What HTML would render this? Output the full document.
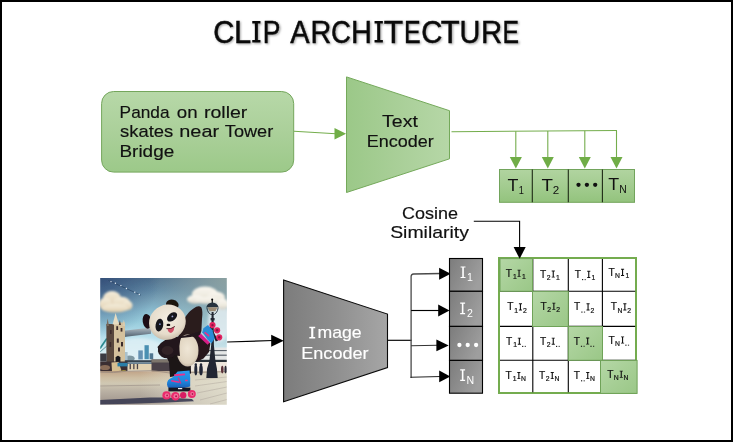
<!DOCTYPE html>
<html>
<head>
<meta charset="utf-8">
<title>CLIP Architecture</title>
<style>
html,body{margin:0;padding:0;background:#fff;}
body{width:733px;height:442px;overflow:hidden;font-family:"Liberation Sans",sans-serif;}
svg{display:block;position:absolute;left:0;top:0;}
text{font-family:"Liberation Sans",sans-serif;}
.ser{font-family:"Liberation Serif",serif;}
</style>
</head>
<body>
<svg width="733" height="442" viewBox="0 0 733 442" style="opacity:0.999">
<defs>
  <linearGradient id="gBox" x1="0" y1="0" x2="0" y2="1">
    <stop offset="0" stop-color="#b7d8a8"/>
    <stop offset="0.5" stop-color="#abd09a"/>
    <stop offset="1" stop-color="#9cc989"/>
  </linearGradient>
  <linearGradient id="gTrap" x1="0" y1="0" x2="1" y2="0">
    <stop offset="0" stop-color="#9bc888"/>
    <stop offset="0.5" stop-color="#a9cf98"/>
    <stop offset="1" stop-color="#b6d7a7"/>
  </linearGradient>
  <linearGradient id="gT" x1="0" y1="0" x2="0" y2="1">
    <stop offset="0" stop-color="#b1d4a0"/>
    <stop offset="0.5" stop-color="#a3cc90"/>
    <stop offset="1" stop-color="#93c37d"/>
  </linearGradient>
  <linearGradient id="gCell" x1="0" y1="0" x2="1" y2="1">
    <stop offset="0" stop-color="#b5d7a6"/>
    <stop offset="0.5" stop-color="#a7cf96"/>
    <stop offset="1" stop-color="#9ac787"/>
  </linearGradient>
  <linearGradient id="gGray" x1="0" y1="0" x2="1" y2="0">
    <stop offset="0" stop-color="#7c7c7c"/>
    <stop offset="0.5" stop-color="#8f8f8f"/>
    <stop offset="1" stop-color="#a6a6a6"/>
  </linearGradient>
  <linearGradient id="gI" x1="0" y1="0" x2="1" y2="0.45">
    <stop offset="0" stop-color="#7c7c7c"/>
    <stop offset="1" stop-color="#9e9e9e"/>
  </linearGradient>
  <filter id="tsh" x="-5%" y="-20%" width="110%" height="150%">
    <feGaussianBlur stdDeviation="0.9"/>
  </filter>
  <path id="vI" d="M0.06,-0.727 H0.36 V-0.652 H0.259 V-0.075 H0.36 V0 H0.06 V-0.075 H0.161 V-0.652 H0.06 Z"/>
  <path id="vIt" d="M0.05,-0.727 H0.37 V-0.64 H0.268 V-0.087 H0.37 V0 H0.05 V-0.087 H0.152 V-0.64 H0.05 Z"/>
</defs>

<!-- background + border -->
<rect x="0" y="0" width="733" height="442" fill="#000"/>
<rect x="2" y="2" width="729" height="438" fill="#fff"/>

<!-- title -->
<!--TITLE-->
<g id="title" font-size="31.2">
<g fill="#a6a6a6" stroke="#a6a6a6" stroke-width="0.45" filter="url(#tsh)">
<text transform="translate(214.37,43.7) scale(0.936,1)">C</text>
<text transform="translate(235.02,43.7) scale(0.989,1)">L</text>
<use href="#vIt" stroke="none" transform="translate(252.07,43.7) scale(25.62,29.53)"/>
<text transform="translate(263.88,43.7) scale(0.849,1)">P</text>
<text transform="translate(291.29,43.7) scale(0.928,1)">A</text>
<text transform="translate(311.49,43.7) scale(0.923,1)">R</text>
<text transform="translate(332.15,43.7) scale(0.881,1)">C</text>
<text transform="translate(352.17,43.7) scale(0.93,1)">H</text>
<use href="#vIt" stroke="none" transform="translate(374.35,43.7) scale(25.94,29.53)"/>
<text transform="translate(384.94,43.7) scale(1.015,1)">T</text>
<text transform="translate(405.01,43.7) scale(0.798,1)">E</text>
<text transform="translate(422.37,43.7) scale(0.936,1)">C</text>
<text transform="translate(441.95,43.7) scale(0.992,1)">T</text>
<text transform="translate(460.72,43.7) scale(0.926,1)">U</text>
<text transform="translate(482.05,43.7) scale(0.939,1)">R</text>
<text transform="translate(503.72,43.7) scale(0.792,1)">E</text>
</g>
<g fill="#0a0a0a" stroke="#0a0a0a" stroke-width="0.45">
<text transform="translate(213.27,42.5) scale(0.936,1)">C</text>
<text transform="translate(233.92,42.5) scale(0.989,1)">L</text>
<use href="#vIt" stroke="none" transform="translate(250.97,42.5) scale(25.62,29.53)"/>
<text transform="translate(262.78,42.5) scale(0.849,1)">P</text>
<text transform="translate(290.19,42.5) scale(0.928,1)">A</text>
<text transform="translate(310.39,42.5) scale(0.923,1)">R</text>
<text transform="translate(331.05,42.5) scale(0.881,1)">C</text>
<text transform="translate(351.07,42.5) scale(0.93,1)">H</text>
<use href="#vIt" stroke="none" transform="translate(373.25,42.5) scale(25.94,29.53)"/>
<text transform="translate(383.84,42.5) scale(1.015,1)">T</text>
<text transform="translate(403.91,42.5) scale(0.798,1)">E</text>
<text transform="translate(421.27,42.5) scale(0.936,1)">C</text>
<text transform="translate(440.85,42.5) scale(0.992,1)">T</text>
<text transform="translate(459.62,42.5) scale(0.926,1)">U</text>
<text transform="translate(480.95,42.5) scale(0.939,1)">R</text>
<text transform="translate(502.62,42.5) scale(0.792,1)">E</text>
</g>
</g>
<!--/TITLE-->

<!-- prompt box -->
<g id="prompt">
  <rect x="101.6" y="91.5" width="192.1" height="80.6" rx="12" ry="12" fill="url(#gBox)" stroke="#74a65c" stroke-width="1"/>
  <g font-size="16.4" fill="#111" stroke="#111" stroke-width="0.16">
    <text x="119.63" y="117.8" textLength="49.92" lengthAdjust="spacingAndGlyphs">Panda</text>
    <text x="176.76" y="117.8" textLength="20.8" lengthAdjust="spacingAndGlyphs">on</text>
    <text x="203.95" y="117.8" textLength="43.42" lengthAdjust="spacingAndGlyphs">roller</text>
    <text x="120.14" y="137.3" textLength="53.18" lengthAdjust="spacingAndGlyphs">skates</text>
    <text x="179.33" y="137.3" textLength="39.75" lengthAdjust="spacingAndGlyphs">near</text>
    <text x="224.86" y="137.3" textLength="48.38" lengthAdjust="spacingAndGlyphs">Tower</text>
    <text x="119.5" y="157.2" textLength="54.69" lengthAdjust="spacingAndGlyphs">Bridge</text>
  </g>
</g>

<!-- arrow prompt -> text encoder -->
<g id="arr1" stroke="#74ad4c" fill="#70ad47">
  <line x1="294" y1="131.3" x2="336" y2="133.7" stroke-width="1.1"/>
  <polygon points="334.5,128 346.1,133.8 334.5,139.5" stroke="none"/>
</g>

<!-- text encoder trapezoid -->
<g id="tenc">
  <polygon points="346.5,76.9 449.5,110.7 449.5,158.8 346.5,192.5" fill="url(#gTrap)" stroke="#74a95a" stroke-width="1"/>
  <g font-size="16.4" fill="#111" stroke="#111" stroke-width="0.16">
    <text x="382.14" y="126.6" textLength="35.75" lengthAdjust="spacingAndGlyphs">Text</text>
    <text x="366.87" y="146.8" textLength="66.97" lengthAdjust="spacingAndGlyphs">Encoder</text>
  </g>
</g>

<!-- text encoder outputs -->
<g id="tout" stroke="#74ad4c" fill="#70ad47" stroke-width="1.1">
  <polyline points="451.5,131.7 617,130.5" fill="none"/>
  <line x1="515.8" y1="131.3" x2="515.8" y2="158"/>
  <line x1="547.8" y1="131.1" x2="547.8" y2="158"/>
  <line x1="584.8" y1="130.8" x2="584.8" y2="158"/>
  <line x1="616.5" y1="130.5" x2="616.5" y2="158"/>
  <g stroke="none">
    <polygon points="509.8,157 521.9,157 515.85,168.6"/>
    <polygon points="541.8,157 553.8,157 547.8,168.6"/>
    <polygon points="578.8,157 590.8,157 584.8,168.6"/>
    <polygon points="610.5,157 622.5,157 616.5,168.6"/>
  </g>
</g>

<!-- T row -->
<g id="trow">
  <rect x="499.5" y="169.5" width="135" height="32.8" fill="url(#gT)" stroke="#72a45c" stroke-width="1"/>
  <g stroke="#1e2a16" stroke-width="1.1">
    <line x1="532.3" y1="169.5" x2="532.3" y2="202.3"/>
    <line x1="568.3" y1="169.5" x2="568.3" y2="202.3"/>
    <line x1="602.4" y1="169.5" x2="602.4" y2="202.3"/>
  </g>
  <g fill="#111">
    <text transform="translate(507.50,190.8) scale(1.089,1)" font-size="16.4">T</text>
    <text transform="translate(518.69,193.7) scale(0.859,1)" font-size="10.8">1</text>
    <text transform="translate(541.48,190.8) scale(1.143,1)" font-size="16.4">T</text>
    <text transform="translate(552.71,193.7) scale(1.077,1)" font-size="10.8">2</text>
    <circle cx="578.5" cy="184.8" r="2.15"/>
    <circle cx="586.9" cy="184.8" r="2.15"/>
    <circle cx="595.2" cy="184.8" r="2.15"/>
    <text transform="translate(608.20,189.9) scale(1.089,1)" font-size="16.4">T</text>
    <text transform="translate(619.35,192.8) scale(0.961,1)" font-size="10.8">N</text>
  </g>
</g>

<!-- cosine similarity -->
<g id="cos">
  <g font-size="16.2" fill="#111" stroke="#111" stroke-width="0.16">
    <text x="402.04" y="219" textLength="56.01" lengthAdjust="spacingAndGlyphs">Cosine</text>
    <text x="390.17" y="238.4" textLength="78.82" lengthAdjust="spacingAndGlyphs">Similarity</text>
  </g>
</g>

<!--PANDA-->
<defs>
  <clipPath id="pc"><rect x="100.2" y="278" width="126.6" height="126.7"/></clipPath>
  <filter id="pb" x="-5%" y="-5%" width="110%" height="110%"><feGaussianBlur stdDeviation="0.7"/></filter>
  <filter id="pb3" x="-20%" y="-20%" width="140%" height="140%"><feGaussianBlur stdDeviation="0.9"/></filter>
  <filter id="pb2" x="-20%" y="-20%" width="140%" height="140%"><feGaussianBlur stdDeviation="1.6"/></filter>
  <linearGradient id="pSky" x1="0" y1="278" x2="0" y2="372" gradientUnits="userSpaceOnUse">
    <stop offset="0" stop-color="#4f708d"/>
    <stop offset="0.13" stop-color="#628aa5"/>
    <stop offset="0.24" stop-color="#7ba5ba"/>
    <stop offset="0.36" stop-color="#8cbed1"/>
    <stop offset="0.47" stop-color="#98ccdc"/>
    <stop offset="0.61" stop-color="#b4deeb"/>
    <stop offset="0.78" stop-color="#d5ecf2"/>
    <stop offset="1" stop-color="#e8eef0"/>
  </linearGradient>
  <radialGradient id="pSkyL" cx="98" cy="276" r="62" gradientUnits="userSpaceOnUse">
    <stop offset="0" stop-color="#2a4270" stop-opacity="0.75"/>
    <stop offset="0.5" stop-color="#2e4a78" stop-opacity="0.4"/>
    <stop offset="1" stop-color="#2e4a78" stop-opacity="0"/>
  </radialGradient>
  <radialGradient id="pSkyR" cx="229" cy="276" r="80" gradientUnits="userSpaceOnUse">
    <stop offset="0" stop-color="#94a8a4" stop-opacity="0.9"/>
    <stop offset="0.5" stop-color="#94aaaa" stop-opacity="0.5"/>
    <stop offset="1" stop-color="#94aaaa" stop-opacity="0"/>
  </radialGradient>
  <linearGradient id="pCl" x1="0" y1="0" x2="0" y2="1">
    <stop offset="0" stop-color="#f4ecda"/>
    <stop offset="0.6" stop-color="#e9dcc2"/>
    <stop offset="1" stop-color="#d2bf9f"/>
  </linearGradient>
  <linearGradient id="pCr" x1="0" y1="0" x2="0" y2="1">
    <stop offset="0" stop-color="#f9f7f0"/>
    <stop offset="0.6" stop-color="#efebe0"/>
    <stop offset="1" stop-color="#d2d0c6"/>
  </linearGradient>
  <linearGradient id="pGr" x1="0" y1="371" x2="0" y2="405" gradientUnits="userSpaceOnUse">
    <stop offset="0" stop-color="#c0a387"/>
    <stop offset="0.2" stop-color="#cdbda2"/>
    <stop offset="0.36" stop-color="#d0c8b3"/>
    <stop offset="0.6" stop-color="#b9b0a3"/>
    <stop offset="0.82" stop-color="#a99f95"/>
    <stop offset="1" stop-color="#9a9088"/>
  </linearGradient>
  <linearGradient id="pGrR" x1="140" y1="0" x2="227" y2="0" gradientUnits="userSpaceOnUse">
    <stop offset="0" stop-color="#e0dccb" stop-opacity="0"/>
    <stop offset="0.6" stop-color="#e0dccb" stop-opacity="0.75"/>
    <stop offset="1" stop-color="#e2dfce" stop-opacity="0.9"/>
  </linearGradient>
  <linearGradient id="pWalk" x1="0" y1="0" x2="0" y2="1">
    <stop offset="0" stop-color="#b4bcc0"/>
    <stop offset="0.45" stop-color="#7e8e9b"/>
    <stop offset="1" stop-color="#434f5b"/>
  </linearGradient>
  <radialGradient id="pHead" cx="0.55" cy="0.4" r="0.65">
    <stop offset="0" stop-color="#f4eee2"/>
    <stop offset="0.7" stop-color="#e6dccb"/>
    <stop offset="1" stop-color="#c4b8a4"/>
  </radialGradient>
  <radialGradient id="pBelly" cx="0.5" cy="0.45" r="0.6">
    <stop offset="0" stop-color="#efe6d6"/>
    <stop offset="0.75" stop-color="#e0d4c0"/>
    <stop offset="1" stop-color="#b8aa98"/>
  </radialGradient>
  <linearGradient id="pBoot" x1="0" y1="0" x2="0" y2="1">
    <stop offset="0" stop-color="#2a9cec"/>
    <stop offset="0.6" stop-color="#1f86dc"/>
    <stop offset="1" stop-color="#1a58b0"/>
  </linearGradient>
</defs>
<g id="panda" clip-path="url(#pc)">
<g filter="url(#pb)">
  <!-- sky -->
  <rect x="96" y="274" width="135" height="100" fill="url(#pSky)"/>
  <rect x="96" y="274" width="135" height="90" fill="url(#pSkyR)"/>
  <rect x="96" y="274" width="135" height="90" fill="url(#pSkyL)"/>
  <ellipse cx="138" cy="350" rx="26" ry="12" fill="#dff0f6" opacity="0.8" filter="url(#pb2)"/>
  <ellipse cx="219" cy="322" rx="11" ry="20" fill="#e4eef2" opacity="0.85" filter="url(#pb2)"/>
  <!-- left cloud -->
  <g fill="url(#pCl)" filter="url(#pb3)">
    <ellipse cx="112" cy="298.5" rx="9" ry="7.5"/>
    <ellipse cx="105.5" cy="304" rx="6.5" ry="6.5"/>
    <ellipse cx="121.5" cy="303.5" rx="9" ry="6.8"/>
    <ellipse cx="127.5" cy="305.5" rx="5" ry="4.8"/>
    <ellipse cx="115" cy="308.3" rx="13.5" ry="4.3"/>
  </g>
  <!-- right cloud -->
  <g fill="url(#pCr)" filter="url(#pb3)">
    <ellipse cx="205" cy="294" rx="13" ry="7.6"/>
    <ellipse cx="195.5" cy="299.3" rx="8.5" ry="4.4"/>
    <ellipse cx="216" cy="297.5" rx="9" ry="6"/>
    <ellipse cx="222.5" cy="304" rx="6" ry="5.5"/>
    <ellipse cx="207" cy="300.5" rx="12" ry="3.6"/>
  </g>
  <!-- string lights -->
  <line x1="108.5" y1="280.5" x2="141" y2="295.2" stroke="#27425f" stroke-width="0.6"/>
  <g fill="#e8f0f8">
    <circle cx="111" cy="281.6" r="0.7"/><circle cx="115.4" cy="283.3" r="0.7"/><circle cx="120.9" cy="285.6" r="0.7"/>
    <circle cx="126.4" cy="288.5" r="0.7"/><circle cx="134.8" cy="292.2" r="0.7"/><circle cx="139.3" cy="294.4" r="0.7"/>
  </g>

  <!-- far-right bridge -->
  <rect x="194" y="347.5" width="36" height="13" fill="#e4e6e6"/>
  <rect x="194" y="350" width="36" height="1.1" fill="#5b636c"/>
  <rect x="194" y="354.6" width="36" height="1.2" fill="#5b636c"/>
  <rect x="190" y="359.8" width="40" height="2.2" fill="#2a3038"/>
  <rect x="190" y="362" width="40" height="10" fill="#eee6dc"/>

  <!-- skyline -->
  <rect x="138.3" y="350.4" width="4.5" height="9" fill="#6591b2"/>
  <rect x="144.5" y="345.2" width="4.3" height="14" fill="#4a8fb2"/>
  <rect x="149.6" y="353.3" width="3.6" height="6" fill="#4f7690"/>
  <ellipse cx="129.5" cy="358.6" rx="5.2" ry="3.2" fill="#7f98a2"/>
  <rect x="125" y="352" width="2.6" height="8" fill="#a9c1cc"/>

  <!-- tower bridge -->
  <path d="M100,348.5 L106.8,338.6" stroke="#2c8a90" stroke-width="1.7" fill="none"/>
  <path d="M100,352 L106.8,346" stroke="#3f7d88" stroke-width="0.8" fill="none"/>
  <polygon points="114,331.6 128,330.2 151,327.6 151,333.8 128,336.6 114,338.6" fill="url(#pWalk)"/>
  <rect x="106.4" y="324" width="8" height="38" fill="#59463e"/>
  <rect x="114" y="322.5" width="11" height="39.5" fill="#d4c19d"/>
  <polygon points="115.6,313 112.6,324.5 119,324.5" fill="#e6dcc2"/>
  <polygon points="107.6,318.5 106.4,326 109,326" fill="#7a6a5c"/>
  <polygon points="123.8,319.5 122.4,326 125.2,326" fill="#d8ccb0"/>
  <polygon points="119.8,320 118.8,325 121,325" fill="#4a3a34"/>
  <g fill="#3a2c2a">
    <rect x="116.3" y="326.2" width="1.8" height="3.8"/><rect x="120.6" y="328" width="1.8" height="3.6"/>
    <rect x="116.8" y="338.5" width="2" height="4.2"/><rect x="121" y="342" width="2" height="4.4"/>
    <rect x="118" y="347.5" width="2" height="4"/><rect x="110" y="330" width="1.6" height="4"/><rect x="109.6" y="342" width="1.6" height="5"/>
  </g>
  <path d="M115.6,362 V357.5 Q118,353.8 120.4,357.5 V362 Z" fill="#15151c"/>
  <rect x="100" y="353.5" width="6.6" height="8" fill="#3b3a42"/>

  <!-- deck + wall -->
  <rect x="124.8" y="360.2" width="42" height="2.2" fill="#36424e"/>
  <rect x="124.8" y="362.3" width="42" height="1.8" fill="#6a8192"/>
  <rect x="127.5" y="364" width="25" height="6.6" fill="#e2d2b2"/>
  <g fill="#4a4248"><rect x="129.6" y="364" width="1.3" height="5.2"/><rect x="133.2" y="364" width="1.3" height="5.2"/><rect x="136.8" y="364" width="1.3" height="5.2"/></g>
  <!-- left pier -->
  <path d="M100,361.5 H127.5 V371 Q113,373.2 100,372.6 Z" fill="#3b2f33"/>
  <polygon points="111.5,362.5 118.5,362 121.5,370.8 112,371.5" fill="#d6be90"/>
  <rect x="117.5" y="362.8" width="10" height="3.6" fill="#2a7ea8"/>
  <ellipse cx="105" cy="367.5" rx="5" ry="2.6" fill="#8a6c58"/>
  <ellipse cx="123.8" cy="371.6" rx="2.6" ry="1.3" fill="#bfb046"/>
  <!-- right pier -->
  <path d="M151.5,359.5 H170 V373.2 H151.5 Z" fill="#4b4349"/>
  <rect x="151.5" y="359.5" width="18.5" height="3" fill="#7d746c"/>

  <!-- pavement -->
  <rect x="96" y="371.2" width="135" height="36" fill="url(#pGr)"/>
  <rect x="96" y="371.2" width="135" height="36" fill="url(#pGrR)"/>
  <path d="M100,372.2 Q114,373.4 127,371.2 L152,370.6 L170,373 L230,371.6" stroke="#9a8a7e" stroke-width="0.8" fill="none"/>
  <line x1="100" y1="386" x2="160" y2="385" stroke="#978b84" stroke-width="0.6"/>
  <g stroke="#a49a92" stroke-width="0.5" opacity="0.8">
    <line x1="195" y1="380" x2="227" y2="377"/><line x1="195" y1="386" x2="227" y2="381.5"/><line x1="197" y1="393" x2="227" y2="387"/><line x1="200" y1="400" x2="227" y2="393"/><line x1="210" y1="404" x2="227" y2="399.5"/>
  </g>
  <path d="M100,400 L150,397.6 L166,397.6 L192,399 L194,401.2 L166,402.6 L100,404.8 Z" fill="#3a3b52" opacity="0.9"/>

  <!-- lamp post -->
  <circle cx="212.2" cy="299.6" r="1"/>
  <rect x="211.7" y="299.5" width="1.1" height="4"/>
  <path d="M206.3,307.2 Q207.5,303 212.4,302.6 Q217.3,303 218.6,307.2 Z" fill="#27323c"/>
  <polygon points="207.4,307.2 217.6,307.2 215.4,311.3 209.6,311.3" fill="#9c8b74"/>
  <path d="M206.8,307.5 Q207.8,314.4 212.5,314.8 Q217.2,314.4 218.2,307.5" stroke="#27323c" stroke-width="0.9" fill="none"/>
  <polygon points="211.6,312 213.6,312 213.9,345 215.4,361 216.9,368.5 217.7,378 206.3,378 207.1,368.5 209.4,361 211.2,345" fill="#222830"/>
  <rect x="210.6" y="318" width="4" height="2.4" fill="#222830"/>

  <!-- people -->
  <g fill="#222636">
    <ellipse cx="195.8" cy="370" rx="1.5" ry="5.4"/><circle cx="195.8" cy="364.4" r="1.2"/>
    <ellipse cx="201" cy="370" rx="1.8" ry="5.4"/><circle cx="201" cy="364.4" r="1.2"/>
  </g>
  <ellipse cx="222.3" cy="369.6" rx="1.3" ry="3.8" fill="#5a3038"/>
  <ellipse cx="225.6" cy="369.6" rx="1.2" ry="3.8" fill="#2c2c38"/>

  <!-- PANDA -->
  <!-- raised arm -->
  <path d="M178,338 Q182,316 193.5,308.6 Q198.6,304.6 201.4,307.6 Q203,311 202,319 L201.4,331 L199.5,336 L177,340 Z" fill="#2a1a1e"/>
  <!-- raised leg -->
  <path d="M188,337 L199,334.5 L210.4,343.5 L209,352 L203.5,358.5 L197,361.8 L188,356 Z" fill="#27181e"/>
  <!-- standing leg -->
  <path d="M163,350 L180,354 Q184,366 190.8,365.5 L191,373.5 L170,377 L169,362 Z" fill="#1a1219"/>
  <!-- belly -->
  <ellipse cx="187.6" cy="350.4" rx="10.9" ry="16" fill="url(#pBelly)"/>
  <!-- shoulder yoke / left arm -->
  <path d="M157.5,347 Q163,338.5 176,336.8 Q187,336 200,331.5 L200.5,335.2 Q190,337.4 181,338 Q178.5,344 180,356 L160,354 Z" fill="#21171b"/>
  <ellipse cx="167.8" cy="349.8" rx="10" ry="8.4" transform="rotate(-8 167.8 349.8)" fill="#21171b"/>
  <ellipse cx="167.5" cy="350.5" rx="6" ry="4.4" fill="#3a2b30" opacity="0.6"/>
  <!-- ears -->
  <ellipse cx="147.1" cy="321.3" rx="4.4" ry="7.4" transform="rotate(-10 147.1 321.3)" fill="#1a1013"/>
  <ellipse cx="172.3" cy="304.6" rx="6.4" ry="4.9" transform="rotate(12 172.3 304.6)" fill="#1f1411"/>
  <!-- head -->
  <ellipse cx="167.4" cy="322.2" rx="18.6" ry="17.4" transform="rotate(-25 167.4 322.2)" fill="url(#pHead)"/>
  <!-- eye patches -->
  <ellipse cx="159.4" cy="325.1" rx="3.8" ry="6.5" transform="rotate(10 159.4 325.1)" fill="#15131b"/>
  <ellipse cx="172.1" cy="316.9" rx="3.7" ry="5.8" transform="rotate(50 172.1 316.9)" fill="#15131b"/>
  <circle cx="159.9" cy="324.2" r="0.9" fill="#7f8fc4"/>
  <circle cx="172.4" cy="316.4" r="0.9" fill="#a0a8d4"/>
  <!-- nose + mouth -->
  <ellipse cx="168.4" cy="324.9" rx="1.9" ry="1.2" fill="#120e10"/>
  <path d="M167.4,328.6 Q171,329 174.2,326.6 Q174.4,331.8 171,333 Q168,332.8 167.4,328.6 Z" fill="#d54f68"/>
  <path d="M166.4,328.6 Q171,329.6 175,326.4" stroke="#3a1a20" stroke-width="0.8" fill="none"/>

  <!-- raised skate -->
  <path d="M209.5,327 L217,341" stroke="#241c2c" stroke-width="2.6"/>
  <polygon points="203.4,328.2 208,325 212.5,330.2 214.6,338.3 211.5,343.4 207.4,339.4 202.3,332.2" fill="#2a8cd6"/>
  <polygon points="198.2,336 201,333.8 209.8,342.6 207.6,344.8" fill="#d61f88"/>
  <line x1="204.6" y1="332.4" x2="209.2" y2="336.2" stroke="#e8308a" stroke-width="1.6"/>
  <g fill="#e22260"><circle cx="212.5" cy="325.1" r="3.1"/><circle cx="217.1" cy="330.3" r="3.1"/><circle cx="219.2" cy="337.3" r="3.1"/></g>
  <g fill="#8a1240"><circle cx="212.5" cy="325.1" r="1.2"/><circle cx="217.1" cy="330.3" r="1.2"/><circle cx="219.2" cy="337.3" r="1.2"/></g>

  <!-- bottom skate -->
  <path d="M167,384.6 Q166.6,379.6 172.4,377.6 L177.6,371.6 L189.6,370.6 Q190.6,378 190.2,386.6 Q180,389.8 169.4,388.4 Q167.2,387.6 167,384.6 Z" fill="url(#pBoot)"/>
  <line x1="174.2" y1="375.2" x2="185" y2="374.4" stroke="#ea308a" stroke-width="1.9"/>
  <line x1="171.2" y1="380.8" x2="179.4" y2="382.2" stroke="#ea308a" stroke-width="1.6"/>
  <line x1="178.2" y1="377.6" x2="180.8" y2="383.4" stroke="#d82a86" stroke-width="1.2"/>
  <ellipse cx="186.4" cy="380.4" rx="1.5" ry="0.9" fill="#e0408a"/>
  <rect x="168.4" y="387.6" width="22" height="3.8" fill="#191922"/>
  <rect x="178" y="388" width="4.2" height="1.2" fill="#f4f4f8"/>
  <circle cx="183.2" cy="395.3" r="3.2" fill="#d81f62"/>
  <g fill="#ea2a6c"><circle cx="191.8" cy="394" r="4"/><circle cx="166.5" cy="395.4" r="4.1"/><circle cx="175.4" cy="396.2" r="4.3"/></g>
  <g fill="#f4709c"><circle cx="166.9" cy="395.4" r="2.2"/><circle cx="175.9" cy="396.2" r="2.4"/><circle cx="192.3" cy="394" r="2.1"/></g>
  <g fill="#a81c4c"><circle cx="167.1" cy="395.4" r="0.9"/><circle cx="176.1" cy="396.2" r="1"/><circle cx="192.5" cy="394" r="0.9"/></g>
</g>
</g>
</g>

<!--/PANDA-->

<!-- image encoder -->
<g id="ienc">
  <line x1="227.2" y1="342" x2="273" y2="340.5" stroke="#000" stroke-width="1.25"/>
  <polygon points="271.2,334.7 283.7,340.7 271.2,346.7" fill="#000"/>
  <polygon points="283.6,280 387.5,314.1 387.5,367.6 283.6,401.7" fill="url(#gGray)" stroke="#0a0a0a" stroke-width="1.1"/>
  <g font-size="16.4" fill="#fff" stroke="#fff" stroke-width="0.16">
    <use href="#vIt" stroke="none" transform="translate(308.38,338.4) scale(18.44,16.0)"/>
    <text x="317.48" y="338.4" textLength="44.16" lengthAdjust="spacingAndGlyphs">mage</text>
    <text x="301.27" y="358.8" textLength="67.28" lengthAdjust="spacingAndGlyphs">Encoder</text>
  </g>
</g>

<!-- image encoder outputs -->
<g id="iout" stroke="#000" stroke-width="1.15" fill="none">
  <line x1="388" y1="340.3" x2="411.6" y2="340.3"/>
  <path d="M441,273.5 L413.6,274 Q411.1,274.1 411.1,276.6 L411.1,378" stroke="#4a4a4a" stroke-width="1.3"/>
  <line x1="411.1" y1="310.5" x2="440" y2="310.5"/>
  <line x1="411.1" y1="345.8" x2="438" y2="345.2" stroke="#333"/>
  <line x1="410.5" y1="377.3" x2="441" y2="376.5" stroke="#222"/>
  <g fill="#000" stroke="none">
    <polygon points="439.1,267.8 450.7,273.8 439.1,279.8"/>
    <polygon points="438.2,304.6 449.5,310.6 438.2,316.6"/>
    <polygon points="436.4,339.5 448.7,345.4 436.4,351.3"/>
    <polygon points="439.2,370.6 450.3,376.4 439.2,382.2"/>
  </g>
</g>

<!-- I column -->
<g id="icol">
  <g fill="url(#gI)" stroke="#000" stroke-width="1.1">
    <rect x="449.5" y="258.5" width="33" height="32.8"/>
    <rect x="449.5" y="291.3" width="33" height="35.1"/>
    <rect x="449.5" y="326.4" width="33" height="34"/>
    <rect x="449.5" y="360.4" width="33" height="32.8"/>
  </g>
  <g fill="#fff">
    <use href="#vI" transform="translate(459.6,278.1) scale(16.4,16.1)"/>
    <text x="467" y="280.8" font-size="10.6">1</text>
    <use href="#vI" transform="translate(459.2,314.3) scale(16.4,16.1)"/>
    <text x="467" y="317.3" font-size="10.6">2</text>
    <circle cx="459.4" cy="345" r="2.15"/>
    <circle cx="467.7" cy="345" r="2.15"/>
    <circle cx="476.1" cy="345" r="2.15"/>
    <use href="#vI" transform="translate(459.2,381) scale(16.4,16.1)"/>
    <text x="466.4" y="383.8" font-size="10.6">N</text>
  </g>
</g>

<!-- matrix -->
<g id="mat">
  <rect x="499" y="258" width="137" height="135" fill="#fff" stroke="#74ac4f" stroke-width="2"/>
  <g stroke="#000" stroke-width="1.1">
    <line x1="532.8" y1="259" x2="532.8" y2="392.2"/>
    <line x1="568.3" y1="259" x2="568.3" y2="392.2"/>
    <line x1="602.4" y1="259" x2="602.4" y2="392.2"/>
    <line x1="500" y1="291.3" x2="635.2" y2="291.3"/>
    <line x1="500" y1="326.4" x2="635.2" y2="326.4"/>
    <line x1="500" y1="360.3" x2="635.2" y2="360.3"/>
  </g>
  <g fill="url(#gCell)" stroke="#6fa258" stroke-width="1">
    <rect x="500" y="258.6" width="32.5" height="32.7"/>
    <rect x="532.5" y="291.3" width="35.8" height="35.2"/>
    <rect x="568.3" y="326.5" width="34.2" height="33.8"/>
    <rect x="600.5" y="360.4" width="36.6" height="33"/>
  </g>
<!--CELLS-->
<g id="mtxt" fill="#111" stroke="#111" stroke-width="0.2">
<text x="505.75" y="276.80" font-size="10.2">T</text><text x="512.90" y="278.90" font-size="6.8">1</text><use href="#vIt" stroke="none" transform="translate(517.02,276.80) scale(9.69,9.7)"/><text x="521.90" y="278.90" font-size="6.8">1</text>
<text x="539.95" y="277.60" font-size="10.2">T</text><text x="546.70" y="279.70" font-size="6.8">2</text><use href="#vIt" stroke="none" transform="translate(551.22,277.60) scale(9.69,9.7)"/><text x="556.10" y="279.70" font-size="6.8">1</text>
<text x="574.75" y="277.90" font-size="10.2">T</text><rect x="582.00" y="279.05" width="1.2" height="1.1" stroke="none"/><rect x="584.60" y="279.05" width="1.2" height="1.1" stroke="none" opacity="0.8"/><use href="#vIt" stroke="none" transform="translate(586.72,277.90) scale(9.69,9.7)"/><text x="591.60" y="280.00" font-size="6.8">1</text>
<text x="608.45" y="275.90" font-size="10.2">T</text><text x="615.10" y="278.00" font-size="6.8">N</text><use href="#vIt" stroke="none" transform="translate(620.52,275.90) scale(9.69,9.7)"/><text x="625.40" y="278.00" font-size="6.8">1</text>
<text x="507.15" y="310.40" font-size="10.2">T</text><text x="514.30" y="312.50" font-size="6.8">1</text><use href="#vIt" stroke="none" transform="translate(518.42,310.40) scale(9.69,9.7)"/><text x="522.90" y="312.50" font-size="6.8">2</text>
<text x="540.55" y="309.80" font-size="10.2">T</text><text x="547.30" y="311.90" font-size="6.8">2</text><use href="#vIt" stroke="none" transform="translate(551.82,309.80) scale(9.69,9.7)"/><text x="556.30" y="311.90" font-size="6.8">2</text>
<text x="574.05" y="310.40" font-size="10.2">T</text><rect x="581.30" y="311.55" width="1.2" height="1.1" stroke="none"/><rect x="583.90" y="311.55" width="1.2" height="1.1" stroke="none" opacity="0.8"/><use href="#vIt" stroke="none" transform="translate(586.02,310.40) scale(9.69,9.7)"/><text x="590.50" y="312.50" font-size="6.8">2</text>
<text x="610.75" y="310.40" font-size="10.2">T</text><text x="617.40" y="312.50" font-size="6.8">N</text><use href="#vIt" stroke="none" transform="translate(622.82,310.40) scale(9.69,9.7)"/><text x="627.30" y="312.50" font-size="6.8">2</text>
<text x="506.05" y="344.70" font-size="10.2">T</text><text x="513.20" y="346.80" font-size="6.8">1</text><use href="#vIt" stroke="none" transform="translate(517.32,344.70) scale(9.69,9.7)"/><rect x="522.10" y="345.85" width="1.2" height="1.1" stroke="none"/><rect x="524.70" y="345.85" width="1.2" height="1.1" stroke="none" opacity="0.8"/>
<text x="539.95" y="344.70" font-size="10.2">T</text><text x="546.70" y="346.80" font-size="6.8">2</text><use href="#vIt" stroke="none" transform="translate(551.22,344.70) scale(9.69,9.7)"/><rect x="556.00" y="345.85" width="1.2" height="1.1" stroke="none"/><rect x="558.60" y="345.85" width="1.2" height="1.1" stroke="none" opacity="0.8"/>
<text x="573.65" y="344.60" font-size="10.2">T</text><rect x="580.90" y="345.75" width="1.2" height="1.1" stroke="none"/><rect x="583.50" y="345.75" width="1.2" height="1.1" stroke="none" opacity="0.8"/><use href="#vIt" stroke="none" transform="translate(585.62,344.60) scale(9.69,9.7)"/><rect x="590.40" y="345.75" width="1.2" height="1.1" stroke="none"/><rect x="593.00" y="345.75" width="1.2" height="1.1" stroke="none" opacity="0.8"/>
<text x="608.45" y="343.50" font-size="10.2">T</text><text x="615.10" y="345.60" font-size="6.8">N</text><use href="#vIt" stroke="none" transform="translate(620.52,343.50) scale(9.69,9.7)"/><rect x="625.30" y="344.65" width="1.2" height="1.1" stroke="none"/><rect x="627.90" y="344.65" width="1.2" height="1.1" stroke="none" opacity="0.8"/>
<text x="505.55" y="379.10" font-size="10.2">T</text><text x="512.70" y="381.20" font-size="6.8">1</text><use href="#vIt" stroke="none" transform="translate(516.82,379.10) scale(9.69,9.7)"/><text x="521.10" y="381.20" font-size="6.8">N</text>
<text x="538.95" y="379.10" font-size="10.2">T</text><text x="545.70" y="381.20" font-size="6.8">2</text><use href="#vIt" stroke="none" transform="translate(550.22,379.10) scale(9.69,9.7)"/><text x="554.50" y="381.20" font-size="6.8">N</text>
<text x="573.75" y="379.10" font-size="10.2">T</text><rect x="581.00" y="380.25" width="1.2" height="1.1" stroke="none"/><rect x="583.60" y="380.25" width="1.2" height="1.1" stroke="none" opacity="0.8"/><use href="#vIt" stroke="none" transform="translate(585.72,379.10) scale(9.69,9.7)"/><text x="590.00" y="381.20" font-size="6.8">N</text>
<text x="607.15" y="377.80" font-size="10.2">T</text><text x="613.80" y="379.90" font-size="6.8">N</text><use href="#vIt" stroke="none" transform="translate(619.22,377.80) scale(9.69,9.7)"/><text x="623.50" y="379.90" font-size="6.8">N</text>
</g>
<!--/CELLS-->
</g>
<!-- cosine arrow (on top of matrix border) -->
<g id="cosarr">
  <polyline points="473.8,221.3 519.6,221.3 519.6,248" fill="none" stroke="#000" stroke-width="1.1"/>
  <polygon points="513.6,247 525.7,247 519.65,258.8" fill="#000"/>
</g>

</svg>
</body>
</html>
